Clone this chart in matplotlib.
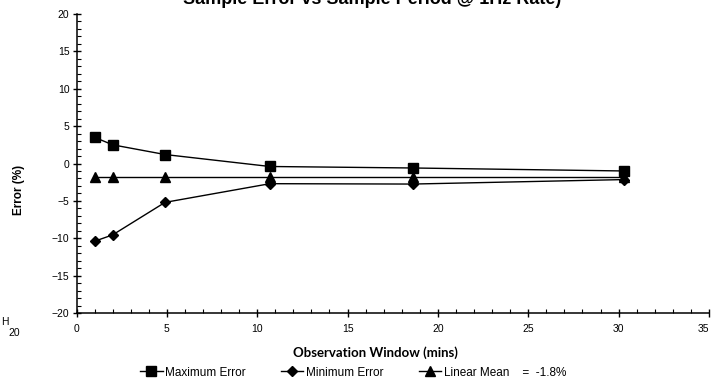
import matplotlib
matplotlib.use("Agg")
import matplotlib.pyplot as plt
from matplotlib.ticker import MultipleLocator

plt.rcParams['font.family'] = ['Liberation Sans', 'DejaVu Sans']

# Data
window_mins = [1, 2, 4.9, 10.7, 18.6, 30.3]
max_error = [3.5, 2.5, 1.2, -0.4, -0.6, -1.0]
min_error = [-10.4, -9.55, -5.2, -2.7, -2.75, -2.15]
linear_mean = [-1.8, -1.8, -1.8, -1.8, -1.8, -1.8]
labels = ["Maximum Error", "Minimum Error", "Linear Mean    =  -1.8%"]

fig = plt.figure(figsize=(7.14, 3.81), dpi=100)
ax = fig.add_axes([76.5/714, 1-313/381, (709-76.5)/714, (313-14)/381])

l1, = ax.plot(window_mins, max_error, color='black', lw=1.0, marker='s', ms=7, label=labels[0])
l2, = ax.plot(window_mins, min_error, color='black', lw=1.0, marker='D', ms=5, label=labels[1])
l3, = ax.plot(window_mins, linear_mean, color='black', lw=1.0, marker='^', ms=7, label=labels[2])

ax.set_xlim(0, 35)
ax.set_ylim(-20, 20)
ax.xaxis.set_major_locator(MultipleLocator(5))
ax.xaxis.set_minor_locator(MultipleLocator(1))
ax.yaxis.set_major_locator(MultipleLocator(5))
ax.yaxis.set_minor_locator(MultipleLocator(1))
for s in ['top', 'right']:
    ax.spines[s].set_visible(False)
for s in ['left', 'bottom']:
    ax.spines[s].set_linewidth(1.1)
ax.tick_params(which='major', direction='inout', length=6, width=1.0, labelsize=7.5, pad=2)
ax.tick_params(which='minor', direction='in', length=3, width=0.8)
ax.tick_params(axis='x', pad=5)
ax.get_xticklabels()
for lab in ax.get_xticklabels():
    if lab.get_text() == '35':
        lab.set_ha('right')

ax.set_xlabel("Observation Window (mins)", fontsize=9.5, fontweight='bold', family=['Lato', 'DejaVu Sans'])
ax.xaxis.set_label_coords(0.472, -0.112)
ax.set_ylabel("Error (%)", fontsize=8.5, fontweight='bold')
ax.yaxis.set_label_coords(-0.082, 0.41)

fig.legend(handles=[l1, l2, l3], loc='center', bbox_to_anchor=(0.4945, 0.022), ncol=3,
           frameon=False, fontsize=8.5, handlelength=1.9, handletextpad=0.2,
           columnspacing=3.0, borderpad=0, borderaxespad=0)

# Cropped fragments of neighbouring content
fig.text(372/714, 1-4/381, "Sample Error vs Sample Period @ 1Hz Rate)", ha='center', va='baseline',
         fontsize=13, fontweight='bold')
fig.text(8/714, 1-333/381, "20", ha='left', va='center', fontsize=7.5)
fig.text(1/714, 1-322/381, "H", ha='left', va='center', fontsize=7.5)

fig.savefig("out.png", dpi=100)
